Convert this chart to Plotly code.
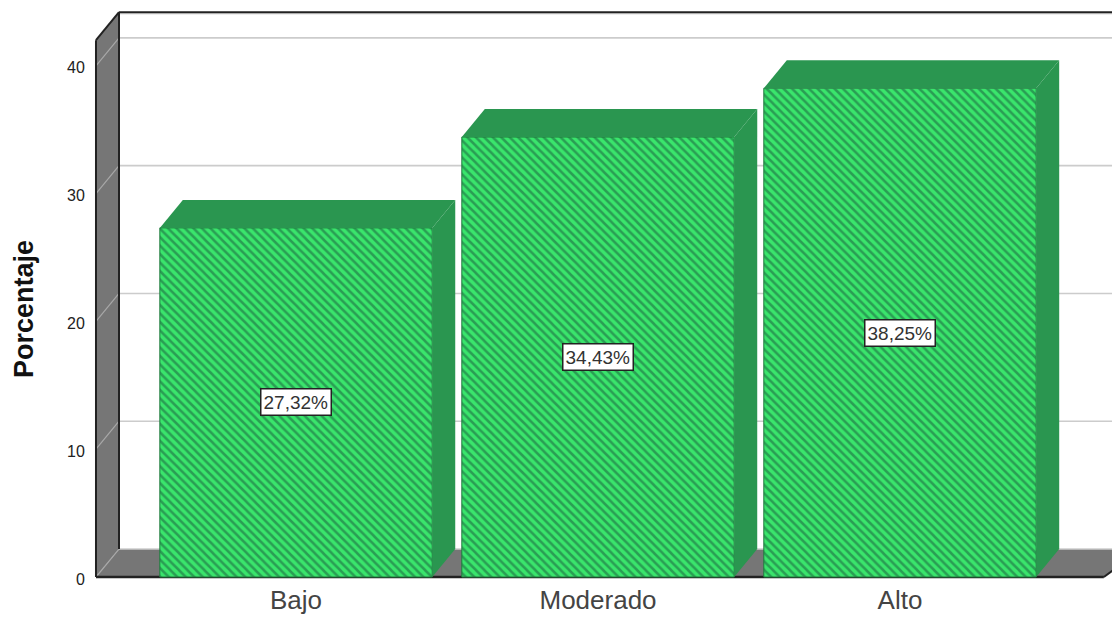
import plotly.graph_objects as go

categories = ["Bajo", "Moderado", "Alto"]
percentages = [27.32, 34.43, 38.25]
y_ticks = [0, 10, 20, 30, 40]

# chart-frame styling
W, H = 1112, 617
BAR_W = 0.902
DX, DY = 0.0762, 2.19       # 3D depth in axis units
X_MIN, X_MAX = -0.669, 2.702
Y_MIN, Y_MAX = -0.235, 44.37
WALL_TOP = 44.2
FLOOR_RIGHT = 2.675
GREEN, DARK_GREEN, STRIPE = "#3ae56c", "#2a9650", "#2a9e54"
GRAY, GRID, INK = "#767676", "#cccccc", "#222222"
FONT = "Liberation Sans"
positions = list(range(len(categories)))
x_left = X_MIN + 0.0066
x_back = x_left + DX


def poly(xs, ys, fill, line=None, width=0, layer="below"):
    path = "M " + " L ".join(f"{a},{b}" for a, b in zip(xs, ys)) + " Z"
    return dict(type="path", path=path, xref="x", yref="y", fillcolor=fill, layer=layer,
                line=dict(color=line or fill, width=width))


def seg(x0, y0, x1, y1, color, width):
    return dict(type="line", x0=x0, y0=y0, x1=x1, y1=y1, xref="x", yref="y", layer="below",
                line=dict(color=color, width=width))


shapes = [
    poly([x_left, x_back, x_back, x_left], [0, DY, WALL_TOP, WALL_TOP - DY], GRAY),
    poly([x_left, x_back, X_MAX + 0.1, FLOOR_RIGHT], [0, DY, DY, 0], GRAY),
]
for t in y_ticks:
    shapes.append(seg(x_back, t + DY, X_MAX, t + DY, GRID, 1.6))
    shapes.append(seg(x_left, t, x_back, t + DY, "#a8a8a8", 1.2))
shapes += [
    seg(x_back, WALL_TOP - 0.12, X_MAX, WALL_TOP - 0.12, "#dddddd", 1.5),
    seg(x_back, WALL_TOP, X_MAX, WALL_TOP, INK, 2),
    seg(x_left, WALL_TOP - DY, x_back, WALL_TOP, INK, 2),
    seg(x_left, 0, x_left, WALL_TOP - DY, INK, 2),
    seg(x_back, DY, x_back, WALL_TOP, INK, 2),
    seg(x_left, 0, FLOOR_RIGHT, 0, INK, 2.4),
    seg(FLOOR_RIGHT, 0, X_MAX + 0.1, DY, INK, 2),
]

fig = go.Figure()
for p, v in zip(positions, percentages):
    r = p + BAR_W / 2
    l = p - BAR_W / 2
    fig.add_trace(go.Scatter(
        x=[r, r + DX, r + DX, r, r], y=[0, DY, v + DY, v, 0],
        fill="toself", fillcolor=DARK_GREEN, mode="lines", line=dict(width=0),
        hoverinfo="skip", showlegend=False))
    fig.add_trace(go.Scatter(
        x=[l, l + DX, r + DX, r, l], y=[v, v + DY, v + DY, v, v],
        fill="toself", fillcolor=DARK_GREEN, mode="lines", line=dict(width=0),
        hoverinfo="skip", showlegend=False))

fig.add_trace(go.Bar(
    x=positions, y=percentages, width=BAR_W, showlegend=False,
    marker=dict(color=GREEN, line=dict(color="#1f7a3d", width=1),
                pattern=dict(shape="\\", size=6, solidity=0.42, fgcolor=STRIPE, bgcolor=GREEN,
                             fillmode="replace")),
))

annotations = [
    dict(x=p, y=v / 2, xref="x", yref="y", text=f"{v:.2f}%".replace(".", ","), showarrow=False,
         font=dict(family=FONT, size=19, color="#333333"), bgcolor="white",
         bordercolor="#222222", borderwidth=1.5, borderpad=2)
    for p, v in zip(positions, percentages)
]
annotations.append(dict(
    x=-(94 - 24) / (W - 94), y=(580 - 309) / (580 - 10), xref="paper", yref="paper",
    xanchor="center", yanchor="middle",
    text="<b>Porcentaje</b>", textangle=-90, showarrow=False,
    font=dict(family=FONT, size=27, color="#111111")))

fig.update_layout(
    width=W, height=H, autosize=False, paper_bgcolor="white", plot_bgcolor="white",
    margin=dict(l=94, r=0, t=10, b=37), shapes=shapes, annotations=annotations, showlegend=False,
    font=dict(family=FONT),
    xaxis=dict(range=[X_MIN, X_MAX], tickmode="array", tickvals=positions, ticktext=categories,
               automargin=False,
               showgrid=False, zeroline=False, showline=False, ticks="", ticklabelstandoff=2,
               tickfont=dict(family=FONT, size=26, color="#444444")),
    yaxis=dict(range=[Y_MIN, Y_MAX], tickmode="array", tickvals=y_ticks, automargin=False,
               showgrid=False, zeroline=False, showline=False, ticks="outside", ticklen=5,
               tickcolor="rgba(0,0,0,0)", tickfont=dict(family=FONT, size=16, color="#222222"),
               ticklabelshift=2),
)
fig.write_html("out.html", config=dict(displayModeBar=False),
               post_script="document.body.style.margin='0';document.body.style.overflow='hidden';")
